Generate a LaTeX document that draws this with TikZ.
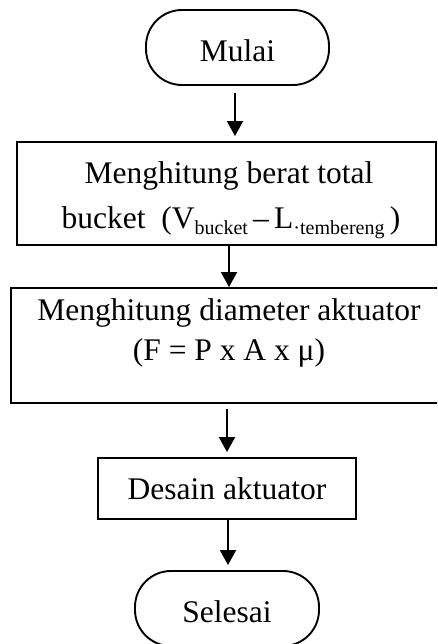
\documentclass[tikz,border=0pt]{standalone}
\usepackage{fontspec}
\setmainfont{Liberation Serif}
\usetikzlibrary{arrows.meta}
\newcommand\lowsub[1]{\raisebox{-6pt}{\fontsize{20}{20}\selectfont #1}}
\tikzset{
  every picture/.style={x=1pt,y=-1pt},
  term/.style={draw, line width=1.9pt, rounded corners=36pt, inner sep=0pt},
  procbox/.style={draw, line width=1.9pt, inner sep=0pt},
  txt/.style={font=\fontsize{31.5}{37}\selectfont, inner sep=0pt, anchor=base},
  flow/.style={line width=1.9pt, -{Triangle[width=16pt,length=15pt]}},
}
\begin{document}
\begin{tikzpicture}
\useasboundingbox (0,0) rectangle (437,644);
\clip (0,0) rectangle (437,644);
% Mulai
\node[term, minimum width=183pt, minimum height=75pt] (start) at (237.5,47.5) {};
\node[txt] (startT) at (237.5,62) {Mulai};
% Box 1
\node[procbox, minimum width=419pt, minimum height=103pt] (b1) at (226.5,193.5) {};
\node[txt] (b1a) at (229,184) {Menghitung berat total};
\node[txt] (b1b) at (231,228) {bucket\ \ (V\lowsub{bucket}\,--\,L\lowsub{·tembereng}\,)};
% Box 2
\node[procbox, minimum width=440pt, minimum height=115pt] (b2) at (231,345.5) {};
\node[txt] (b2a) at (229,320) {Menghitung diameter aktuator};
\node[txt] (b2b) at (229,360) {(F = P x A x μ)};
% Box 3
\node[procbox, minimum width=258pt, minimum height=61pt] (b3) at (227,488.5) {};
\node[txt] (b3T) at (227,499) {Desain aktuator};
% Selesai
\node[term, minimum width=184pt, minimum height=75pt] (stop) at (227,608.5) {};
\node[txt] (stopT) at (227,622) {Selesai};
% arrows
\draw[flow, shorten <=7pt, shorten >=5pt] (start.south -| 235,0) -- (b1.north -| 235,0);
\draw[flow] (b1.south -| 229,0) -- (b2.north -| 229,0);
\draw[flow, shorten <=5pt, shorten >=5pt] (b2.south -| 227,0) -- (b3.north -| 227,0);
\draw[flow, shorten >=5pt] (b3.south -| 228,0) -- (stop.north -| 228,0);
\end{tikzpicture}
\end{document}
